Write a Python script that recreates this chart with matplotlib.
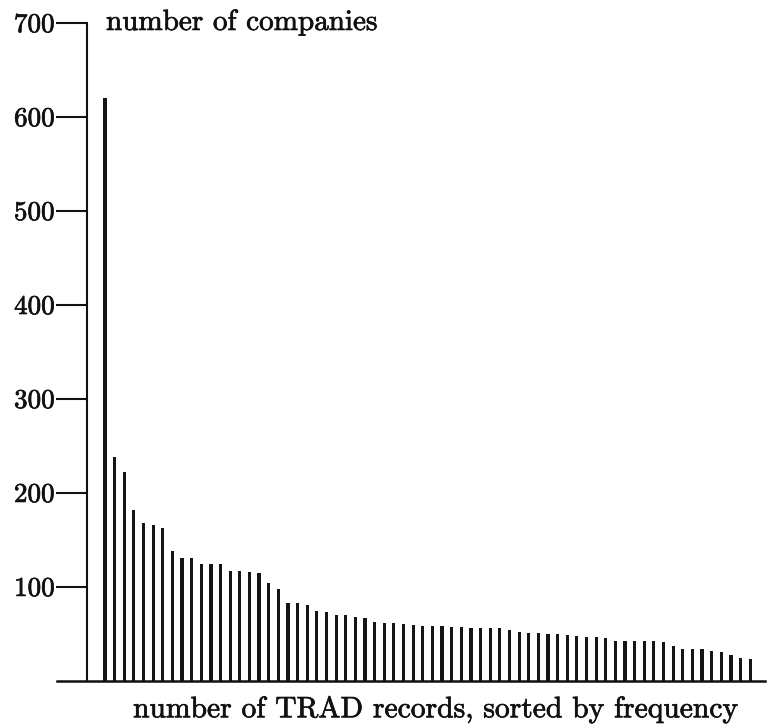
import matplotlib
matplotlib.use("Agg")
import matplotlib.pyplot as plt
import matplotlib.patheffects as pe
import numpy as np

plt.rcParams['font.family'] = 'serif'
plt.rcParams['font.serif'] = ['cmr10', 'DejaVu Serif']
plt.rcParams['axes.formatter.use_mathtext'] = True

# data
companies = [620, 238, 222, 181, 168, 165, 162, 138, 130, 130, 124, 124, 124,
             116, 116, 115, 114, 104, 97, 83, 82,
             80, 74, 73, 70, 70, 68, 67, 62, 61, 61, 60, 59,
             58, 58, 58, 57, 57, 56, 56, 56, 56, 54, 52, 51, 51, 50, 49, 48, 47, 46, 46,
             45, 42, 42, 42, 42, 42, 41, 37, 34, 34, 33, 31, 30, 27, 24, 23]
ytick_values = [100, 200, 300, 400, 500, 600, 700]
ytick_labels = ["100", "200", "300", "400", "500", "600", "700"]
ylabel_text = "number of companies"
xlabel_text = "number of TRAD records, sorted by frequency"

W, H = 768, 728
fig = plt.figure(figsize=(W / 100, H / 100), dpi=100)

left_px, right_px = 57, 765
top_px, bottom_px = 22.7, 680.5
ax = fig.add_axes([left_px / W, 1 - bottom_px / H,
                   (right_px - left_px) / W, (bottom_px - top_px) / H])

x = np.arange(len(companies))
ax.bar(x, companies, width=0.33, color='#151515', linewidth=0)

bar0_px, step_px = 105.0, 9.63
ax.set_xlim((left_px - bar0_px) / step_px, (right_px - bar0_px) / step_px)
ax.set_ylim(0, 700)

yaxis_x = (86.5 - bar0_px) / step_px
ax.spines['left'].set_position(('data', yaxis_x))
ax.spines['top'].set_visible(False)
ax.spines['right'].set_visible(False)
ax.spines['left'].set_linewidth(1.5)
ax.spines['bottom'].set_linewidth(1.8)
ax.spines['left'].set_color('#111111')
ax.spines['bottom'].set_color('#111111')

thick = [pe.withStroke(linewidth=0.5, foreground='#111111')]

ax.set_xticks([])
ax.set_yticks(ytick_values)
ax.set_yticklabels(ytick_labels)
ax.tick_params(axis='y', direction='out', length=22.5, width=1.5, pad=0.5,
               labelsize=19.5, colors='#111111')
for lab in ax.get_yticklabels():
    lab.set_path_effects(thick)

ax.text((106 - bar0_px) / step_px, 700, ylabel_text, fontsize=21,
        va='center', ha='left', color='#111111', path_effects=thick)

fig.text(436 / W, 1 - 710 / H, xlabel_text, fontsize=21.3, ha='center',
         va='center', color='#111111', path_effects=thick)

fig.savefig("out.png", dpi=100, facecolor='white')
